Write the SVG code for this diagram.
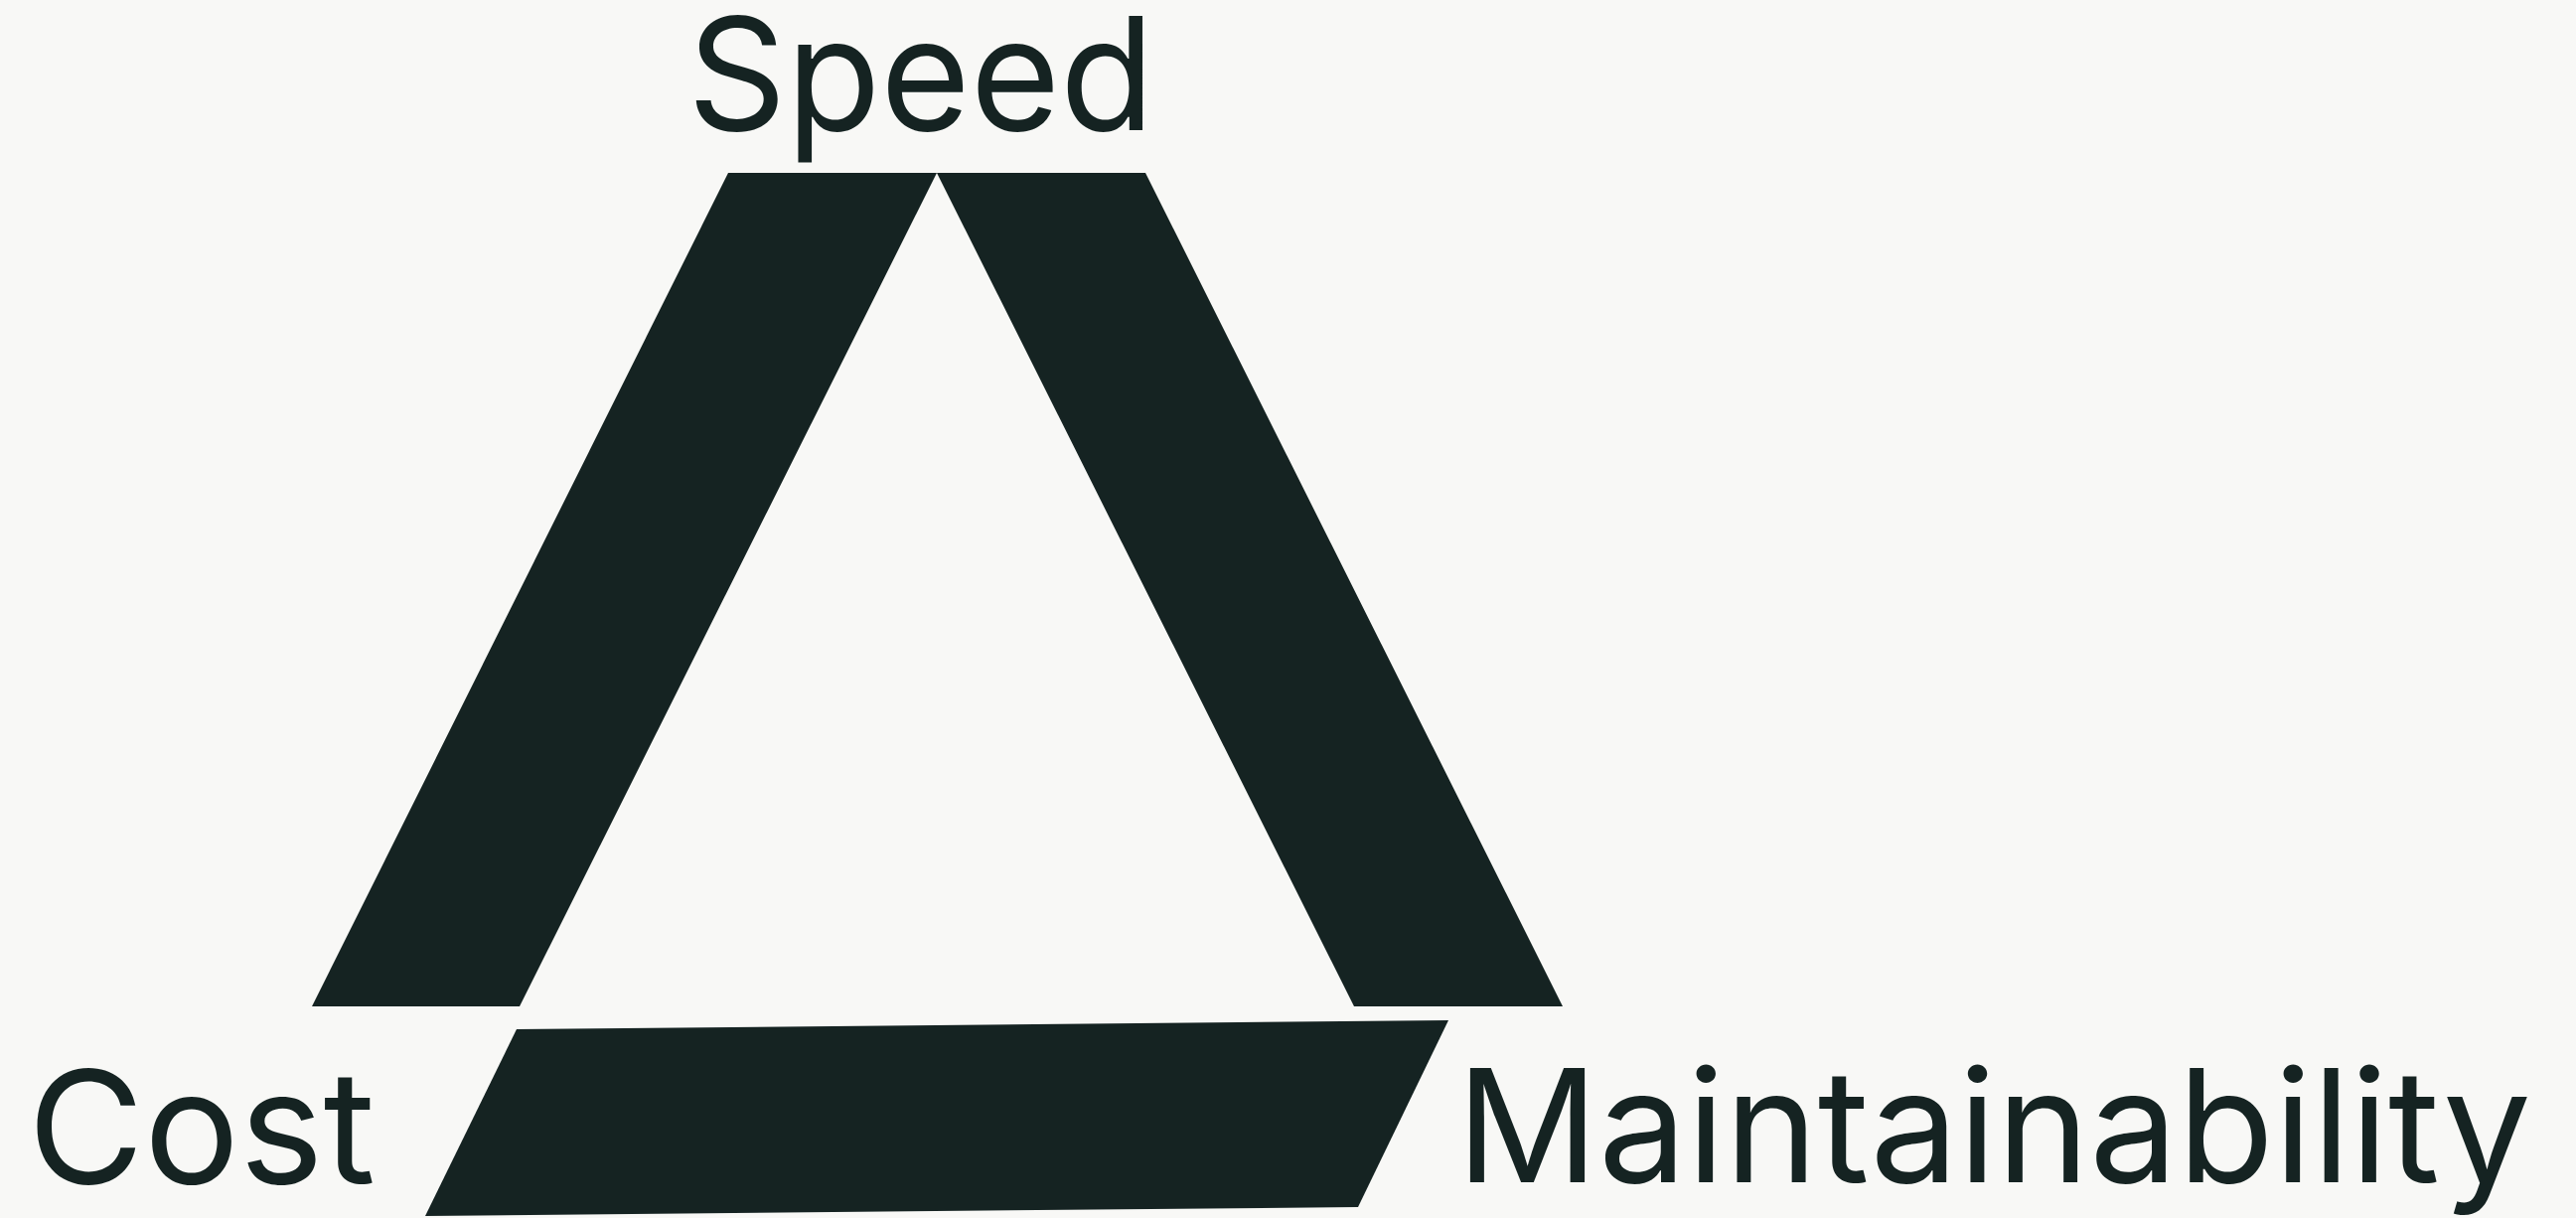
<svg xmlns="http://www.w3.org/2000/svg" width="2593" height="1226" viewBox="0 0 2593 1226">
<style>
.bg{fill:#f8f8f6}
.shape{fill:#152322}
.lbl{font-family:Inter,"Noto Sans","Liberation Sans",sans-serif;font-size:158px;fill:#152322}
</style>
<rect class="bg" x="0" y="0" width="2593" height="1226"/>
<g id="connectors">
<polygon id="edge-speed-cost" class="shape" points="733,174 943,174 523,1013 314,1013"/>
<polygon id="edge-speed-maint" class="shape" points="943,174 1153,174 1573,1013 1363,1013"/>
<polygon id="edge-cost-maint" class="shape" points="520,1036 1458,1027 1367,1215 428,1224"/>
</g>
<g id="node-speed"><text class="lbl" x="692" y="131" textLength="470" lengthAdjust="spacingAndGlyphs">Speed</text></g>
<g id="node-cost"><text class="lbl" x="28" y="1191" textLength="350" lengthAdjust="spacingAndGlyphs">Cost</text></g>
<g id="node-maintainability"><text class="lbl" x="1466" y="1190" textLength="1082" lengthAdjust="spacingAndGlyphs">Maintainability</text></g>
</svg>
